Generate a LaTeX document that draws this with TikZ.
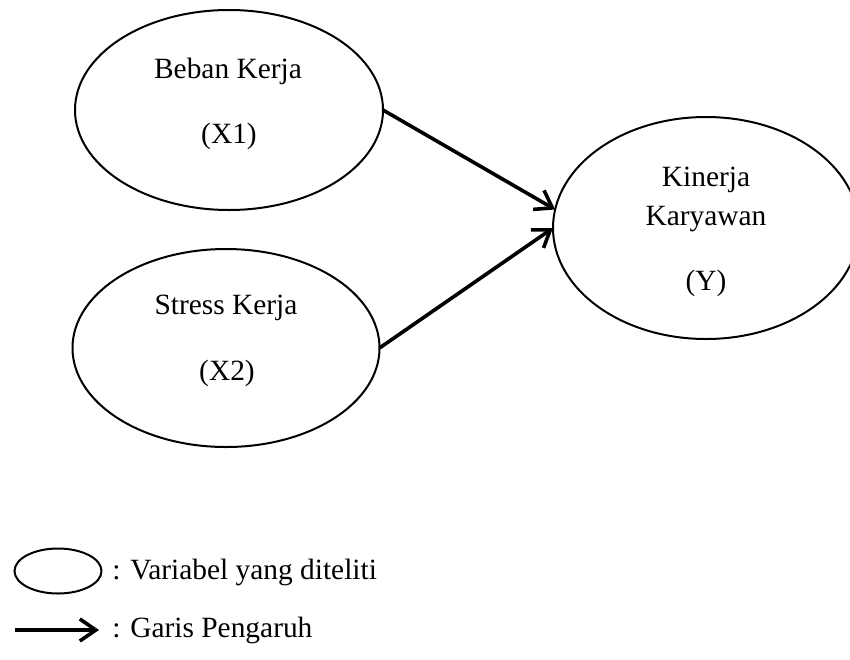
\documentclass[tikz,border=0pt]{standalone}
\usepackage{fontspec}
\setmainfont{Liberation Serif}
\usepackage{tikz}
\usetikzlibrary{shapes.geometric,arrows.meta}

\tikzset{
  var/.style={draw, ellipse, line width=1pt, inner sep=0pt, outer sep=0pt},
  lbl/.style={inner sep=0pt, font=\fontsize{14.7}{19.5}\selectfont, align=center},
  infl/.style={-{Straight Barb[length=8pt,width=11pt]}, line width=1.8pt},
}

\begin{document}
\begin{tikzpicture}[x=0.5pt,y=-0.5pt]
    \useasboundingbox (0,0) rectangle (850,659);

    % Draw variables
    \node[var, minimum width=154pt, minimum height=100pt] (x1) at (229,110) {};
    \node[var, minimum width=153.5pt, minimum height=99pt] (x2) at (226,348) {};
    \node[var, minimum width=153pt, minimum height=111pt] (y) at (706,228) {};

    % Draw labels
    \node[lbl] (x1name) at (228,71) {Beban Kerja};
    \node[lbl] (x1sym) at (229,136) {(X1)};
    \node[lbl] (x2name) at (226,308) {Stress Kerja};
    \node[lbl] (x2sym) at (227,373) {(X2)};
    \node[lbl] (yname) at (706,199) {Kinerja\\Karyawan};
    \node[lbl] (ysym) at (706,283) {(Y)};

    % Draw influence arrows
    \draw[infl] (x1.east) -- (y.173);
    \draw[infl] (x2.east) -- (y.west);

    % Draw legend
    \node[var, minimum width=43.5pt, minimum height=22.5pt] (keyvar) at (58,571) {};
    \node[lbl, anchor=west] (keyvartxt) at (112,572) {: Variabel yang diteliti};
    \coordinate (keyfrom) at (15,630);
    \coordinate (keyto) at (99,630);
    \draw[infl] (keyfrom) -- (keyto);
    \node[lbl, anchor=west] (keyinfltxt) at (112,630) {: Garis Pengaruh};
\end{tikzpicture}
\end{document}
